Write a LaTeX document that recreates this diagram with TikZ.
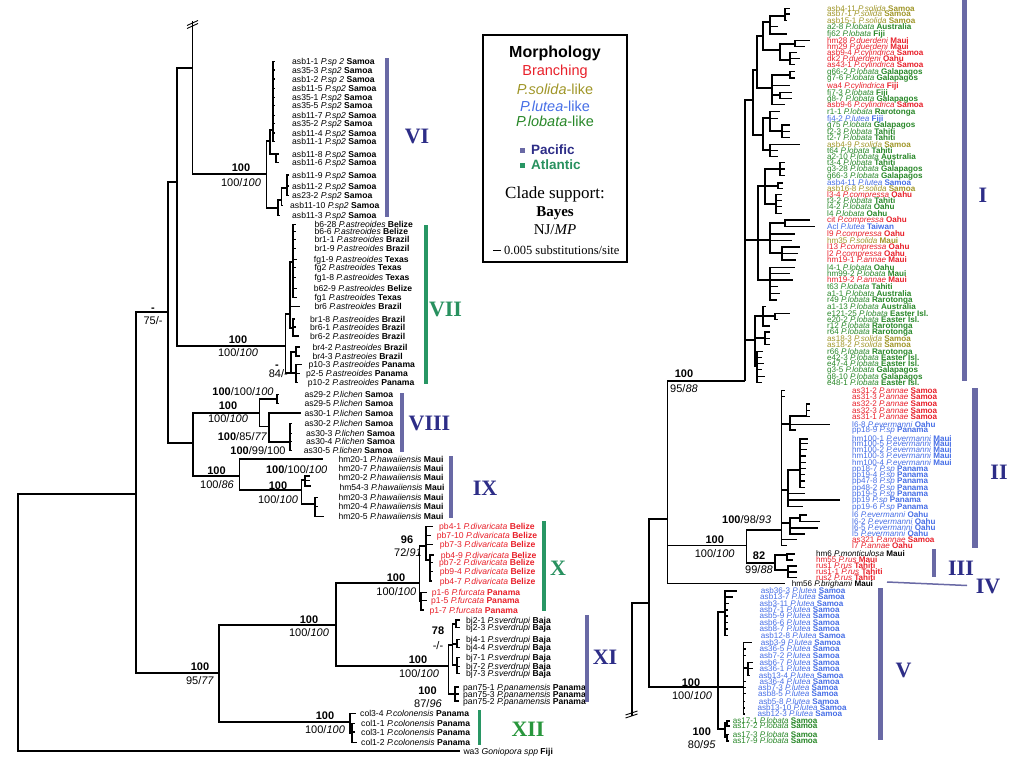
\documentclass[tikz,border=0pt]{standalone}
\usepackage{fontspec}
\setmainfont{Liberation Serif}
\setsansfont{Liberation Sans}
\definecolor{cred}{RGB}{232,32,42}
\definecolor{colv}{RGB}{160,150,40}
\definecolor{cblu}{RGB}{70,110,230}
\definecolor{cgrn}{RGB}{40,135,40}
\definecolor{pacbar}{RGB}{105,105,165}
\definecolor{pactxt}{RGB}{45,45,135}
\definecolor{atl}{RGB}{40,150,100}
\definecolor{atltxt}{RGB}{40,145,95}
\definecolor{xiigrn}{RGB}{40,150,60}
\newcounter{lf}
\newcommand\kid[4]{\coordinate (#2) at (#3,#4);\draw[br] (#1) |- (#2);}
\newcommand\leaf[6]{\stepcounter{lf}\coordinate (tip\thelf) at (#2,#3);\draw[br] (#1) |- (tip\thelf);\node[#5] (lab\thelf) at (#4,#3) {#6};}
\newcommand\leafb[7]{\stepcounter{lf}\coordinate (tip\thelf) at (#2,#3);\draw[br] (#1) |- (tip\thelf);\node[#6] (lab\thelf) at (#4,#5) {#7};}
\newcommand\T[3]{#1 \textit{#2} \textbf{#3}}
\newcommand\lI[7]{\leaf{#1}{#2}{#3}{827}{#4}{\T{#5}{#6}{#7}}}
\newcommand\lII[7]{\leaf{#1}{#2}{#3}{852}{#4}{\T{#5}{#6}{#7}}}
\tikzset{
 br/.style={line width=1.1pt},
 lL/.style={font=\sffamily\fontsize{8.6}{8.6}\selectfont, anchor=west, inner sep=0pt, text height=6.2pt, text depth=0pt},
 lLred/.style={lL, text=cred},
 lR/.style={font=\sffamily\fontsize{8.1}{8.1}\selectfont, anchor=west, inner sep=0pt, text height=5.8pt, text depth=0pt},
 lred/.style={lR, text=cred}, lolv/.style={lR, text=colv}, lblu/.style={lR, text=cblu},
 lgrn/.style={lR, text=cgrn}, lblk/.style={lR},
 sup/.style={font=\sffamily\fontsize{11}{11}\selectfont, inner sep=0pt, text height=7.9pt, text depth=0pt},
 roman/.style={font=\rmfamily\bfseries\fontsize{22}{22}\selectfont, inner sep=0pt, text=pactxt},
 legtxt/.style={font=\sffamily\fontsize{14.5}{14.5}\selectfont, inner sep=0pt}
}
\begin{document}
\begin{tikzpicture}[x=1pt,y=-1pt]
\useasboundingbox (0,0) rectangle (1024,768);
% ================= LEFT TREE =================
\coordinate (r) at (18,622);
\kid{r}{n136}{136}{494}
\leaf{r}{460}{751}{463.3}{lL}{wa3 \textit{Goniopora spp} \textbf{Fiji}}
\kid{n136}{n168}{168}{312}
\kid{n136}{n219}{219}{673}
\kid{n168}{n177}{177}{182}
\kid{n168}{n193}{193}{443}
\kid{n177}{n192}{192.5}{68}
\kid{n177}{n286}{285.7}{346}
\draw[br] (n192) -- ++(0,-47);
\coordinate (brkL) at (192.5,23);
\draw[line width=0.9pt] ([shift={(-5.5,2.5)}]brkL) -- ([shift={(5.5,-2.5)}]brkL);
\draw[line width=0.9pt] ([shift={(-5.5,5.5)}]brkL) -- ([shift={(5.5,0.5)}]brkL);
\kid{n192}{n266}{266.7}{174}
% clade VI
\kid{n266}{u1}{270}{141}
\kid{n266}{w1}{278}{208}
\kid{u1}{u2}{273}{130}
\kid{u1}{u3}{276}{154}
\leaf{u2}{275}{61.7}{292}{lL}{\T{asb1-1}{P.sp 2}{Samoa}}
\leaf{u2}{275}{70}{292}{lL}{\T{as35-3}{P.sp2}{Samoa}}
\leaf{u2}{275}{79}{292}{lL}{\T{asb1-2}{P.sp 2}{Samoa}}
\leaf{u2}{275}{88.7}{292}{lL}{\T{asb11-5}{P.sp2}{Samoa}}
\leaf{u2}{275}{97.3}{292}{lL}{\T{as35-1}{P.sp2}{Samoa}}
\leaf{u2}{275}{105.7}{292}{lL}{\T{as35-5}{P.sp2}{Samoa}}
\leaf{u2}{275}{115.3}{292}{lL}{\T{asb11-7}{P.sp2}{Samoa}}
\leaf{u2}{275}{123.7}{292}{lL}{\T{as35-2}{P.sp2}{Samoa}}
\leaf{u2}{275}{133}{292}{lL}{\T{asb11-4}{P.sp2}{Samoa}}
\leaf{u2}{275}{141.7}{292}{lL}{\T{asb11-1}{P.sp2}{Samoa}}
\leaf{u3}{279}{154}{292}{lL}{\T{asb11-8}{P.sp2}{Samoa}}
\leaf{u3}{279}{162.3}{292}{lL}{\T{asb11-6}{P.sp2}{Samoa}}
\leaf{w1}{280}{215.7}{292}{lL}{\T{asb11-3}{P.sp2}{Samoa}}
\kid{w1}{w2}{281.7}{200}
\leaf{w2}{283}{205.7}{290}{lL}{\T{asb11-10}{P.sp2}{Samoa}}
\kid{w2}{w3}{287}{188}
\leaf{w3}{289}{175}{292}{lL}{\T{asb11-9}{P.sp2}{Samoa}}
\leaf{w3}{289}{186}{292}{lL}{\T{asb11-2}{P.sp2}{Samoa}}
\leaf{w3}{289}{195.7}{292}{lL}{\T{as23-2}{P.sp2}{Samoa}}
% clade VII
\kid{n286}{v1}{290}{314}
\kid{n286}{v2}{291}{373}
\kid{v1}{va}{293}{262}
\kid{v1}{vb}{293}{328}
\leaf{va}{296}{224.7}{314.3}{lL}{\T{b6-28}{P.astreoides}{Belize}}
\leaf{va}{296}{231.7}{314.3}{lL}{\T{b6-6}{P.astreoides}{Belize}}
\leaf{va}{296}{239.7}{314.3}{lL}{\T{br1-1}{P.astreoides}{Brazil}}
\leaf{va}{296}{248.7}{314.3}{lL}{\T{br1-9}{P.astreoides}{Brazil}}
\leaf{va}{297}{259.3}{313.7}{lL}{\T{fg1-9}{P.astreoides}{Texas}}
\leaf{va}{296}{267.7}{314.3}{lL}{\T{fg2}{P.astreoides}{Texas}}
\leaf{va}{296}{277.7}{314.3}{lL}{\T{fg1-8}{P.astreoides}{Texas}}
\leaf{va}{297}{288.7}{313.7}{lL}{\T{b62-9}{P.astreoides}{Belize}}
\leaf{va}{297}{297.7}{314.3}{lL}{\T{fg1}{P.astreoides}{Texas}}
\leaf{v1}{300}{306.7}{314.3}{lL}{\T{br6}{P.astreoides}{Brazil}}
\leaf{vb}{295}{319}{310}{lL}{\T{br1-8}{P.astreoides}{Brazil}}
\leaf{vb}{296}{327}{310}{lL}{\T{br6-1}{P.astreoides}{Brazil}}
\leaf{vb}{299}{336}{310}{lL}{\T{br6-2}{P.astreoides}{Brazil}}
\kid{v2}{vc}{296}{352}
\kid{v2}{vd}{296}{373}
\leaf{vc}{300}{347}{312.3}{lL}{\T{br4-2}{P.astreoides}{Brazil}}
\leaf{vc}{300}{356}{312.3}{lL}{\T{br4-3}{P.astreoies}{Brazil}}
\leaf{vd}{302}{364.7}{308.3}{lL}{\T{p10-3}{P.astreoides}{Panama}}
\leaf{vd}{300}{373.7}{306}{lL}{\T{p2-5}{P.astreoides}{Panama}}
\leaf{vd}{298}{382.7}{307.7}{lL}{\T{p10-2}{P.astreoides}{Panama}}
% clade VIII
\kid{n193}{n259}{259.3}{413}
\kid{n193}{n240}{239.3}{476}
\kid{n259}{v8a}{277}{399}
\kid{n259}{v8b}{269}{426.7}
\leaf{v8a}{279}{394.7}{304.3}{lL}{\T{as29-2}{P.lichen}{Samoa}}
\leaf{v8a}{279}{403.7}{304.3}{lL}{\T{as29-5}{P.lichen}{Samoa}}
\leaf{v8b}{301}{413}{304.3}{lL}{\T{as30-1}{P.lichen}{Samoa}}
\kid{v8b}{v8c}{290}{442}
\leaf{v8c}{292}{423.7}{304.3}{lL}{\T{as30-2}{P.lichen}{Samoa}}
\leaf{v8c}{292}{433.3}{306}{lL}{\T{as30-3}{P.lichen}{Samoa}}
\leaf{v8c}{292}{441.7}{306}{lL}{\T{as30-4}{P.lichen}{Samoa}}
\leaf{v8c}{292}{450.7}{303.7}{lL}{\T{as30-5}{P.lichen}{Samoa}}
% clade IX
\leaf{n240}{323}{459}{338.3}{lL}{\T{hm20-1}{P.hawaiiensis}{Maui}}
\kid{n240}{n302}{301.7}{490}
\kid{n302}{i9a}{305}{480}
\kid{n302}{i9b}{315}{504}
\leafb{i9a}{310}{476}{338.3}{468.3}{lL}{\T{hm20-7}{P.hawaiiensis}{Maui}}
\leafb{i9a}{310}{480.5}{338.3}{477.3}{lL}{\T{hm20-2}{P.hawaiiensis}{Maui}}
\leafb{i9a}{311}{486}{339.3}{487.7}{lL}{\T{hm54-3}{P.hawaiiensis}{Maui}}
\leaf{i9b}{318}{497.3}{338.3}{lL}{\T{hm20-3}{P.hawaiiensis}{Maui}}
\leaf{i9b}{318}{506.7}{338.3}{lL}{\T{hm20-4}{P.hawaiiensis}{Maui}}
\leaf{i9b}{324}{516.3}{338.3}{lL}{\T{hm20-5}{P.hawaiiensis}{Maui}}
% clades X-XII
\kid{n219}{n336}{336}{625}
\kid{n219}{n350}{350}{722}
\kid{n336}{n419}{419.3}{583}
\kid{n336}{n448}{448.3}{666}
\kid{n419}{xa}{426}{546}
\kid{n419}{xb}{421}{601}
\leaf{xa}{433}{526.7}{439}{lLred}{\T{pb4-1}{P.divaricata}{Belize}}
\leaf{xa}{431}{535.7}{436.7}{lLred}{\T{pb7-10}{P.divaricata}{Belize}}
\leaf{xa}{433}{544.3}{439.7}{lLred}{\T{pb7-3}{P.divaricata}{Belize}}
\kid{xa}{xa1}{430}{560}
\leaf{xa1}{434}{555}{440.7}{lLred}{\T{pb4-9}{P.divaricata}{Belize}}
\leaf{xa1}{433}{562.3}{439}{lLred}{\T{pb7-2}{P.divaricata}{Belize}}
\leaf{xa1}{433}{571.7}{439.7}{lLred}{\T{pb9-4}{P.divaricata}{Belize}}
\leaf{xa1}{432}{581}{439.7}{lLred}{\T{pb4-7}{P.divaricata}{Belize}}
\leaf{xb}{427}{592.7}{431.7}{lLred}{\T{p1-6}{P.furcata}{Panama}}
\leaf{xb}{427}{600.7}{431}{lLred}{\T{p1-5}{P.furcata}{Panama}}
\leaf{xb}{424}{610}{429.3}{lLred}{\T{p1-7}{P.furcata}{Panama}}
\kid{n448}{xi1}{452.7}{645}
\kid{n448}{xi2}{455}{694}
\kid{xi1}{xi1a}{456}{624}
\kid{xi1}{xi1b}{457}{644}
\kid{xi1}{xi1c}{457}{665}
\leaf{xi1a}{460}{620}{466}{lL}{\T{bj2-1}{P.sverdrupi}{Baja}}
\leaf{xi1a}{460}{627.3}{466}{lL}{\T{bj2-3}{P.sverdrupi}{Baja}}
\leaf{xi1b}{460}{639.7}{466}{lL}{\T{bj4-1}{P.sverdrupi}{Baja}}
\leaf{xi1b}{460}{647.7}{466}{lL}{\T{bj4-4}{P.sverdrupi}{Baja}}
\leaf{xi1c}{460}{657.7}{466}{lL}{\T{bj7-1}{P.sverdrupi}{Baja}}
\leaf{xi1c}{460}{666.3}{466}{lL}{\T{bj7-2}{P.sverdrupi}{Baja}}
\leaf{xi1c}{460}{673.7}{466}{lL}{\T{bj7-3}{P.sverdrupi}{Baja}}
\leaf{xi2}{459}{687}{463}{lL}{\T{pan75-1}{P.panamensis}{Panama}}
\leaf{xi2}{459}{694}{463}{lL}{\T{pan75-3}{P.panamensis}{Panama}}
\leaf{xi2}{459}{701}{463}{lL}{\T{pan75-2}{P.panamensis}{Panama}}
\leaf{n350}{356}{713.3}{360}{lL}{\T{col3-4}{P.colonensis}{Panama}}
\kid{n350}{x12a}{352}{733}
\leaf{x12a}{355}{723.7}{361}{lL}{\T{col1-1}{P.colonensis}{Panama}}
\leaf{x12a}{355}{732}{361}{lL}{\T{col3-1}{P.colonensis}{Panama}}
\leaf{x12a}{357}{742.3}{361}{lL}{\T{col1-2}{P.colonensis}{Panama}}
% support values, left
\node[sup] (s1) at (241,168) {\textbf{100}};
\node[sup] (s2) at (241,182.7) {100/\textit{100}};
\node[sup] (s3) at (153,308) {\textbf{-}};
\node[sup] (s4) at (153,321) {75/-};
\node[sup] (s5) at (238,339.3) {\textbf{100}};
\node[sup] (s6) at (238,352.7) {100/\textit{100}};
\node[sup] (s7) at (277,364.3) {\textbf{-}};
\node[sup] (s8) at (278.3,373.3) {84/-};
\node[sup] (s9) at (243,391.5) {\textbf{100}/100/\textit{100}};
\node[sup] (s10) at (228,405.7) {\textbf{100}};
\node[sup] (s11) at (228,419) {100/\textit{100}};
\node[sup] (s12) at (242.5,436.7) {\textbf{100}/85/\textit{77}};
\node[sup] (s13) at (258,451) {\textbf{100}/99/100};
\node[sup] (s14) at (216.5,470.7) {\textbf{100}};
\node[sup] (s15) at (217,484.3) {100/\textit{86}};
\node[sup] (s16) at (296.7,470) {\textbf{100}/100/\textit{100}};
\node[sup] (s17) at (278,486) {\textbf{100}};
\node[sup] (s18) at (278,499.3) {100/\textit{100}};
\node[sup] (s19) at (407,539.3) {\textbf{96}};
\node[sup] (s20) at (408,552.7) {72/\textit{91}};
\node[sup] (s21) at (396,577.3) {\textbf{100}};
\node[sup] (s22) at (396.3,591.7) {100/\textit{100}};
\node[sup] (s23) at (309,619.3) {\textbf{100}};
\node[sup] (s24) at (309,632.7) {100/\textit{100}};
\node[sup] (s25) at (438,630.7) {\textbf{78}};
\node[sup] (s26) at (438,646) {-/-};
\node[sup] (s27) at (418,659.3) {\textbf{100}};
\node[sup] (s28) at (419,673.3) {100/\textit{100}};
\node[sup] (s29) at (427.5,690.7) {\textbf{100}};
\node[sup] (s30) at (428,704) {87/\textit{96}};
\node[sup] (s31) at (325,716) {\textbf{100}};
\node[sup] (s32) at (325,730) {100/\textit{100}};
\node[sup] (s33) at (200,666.7) {\textbf{100}};
\node[sup] (s34) at (200,680.7) {95/\textit{77}};
% ================= RIGHT TREE =================
\coordinate (R) at (632,716);
\kid{R}{Rn}{649}{603}
\coordinate (brkR) at (631.5,713);
\draw[line width=0.9pt] ([shift={(-6,2)}]brkR) -- ([shift={(6,-2)}]brkR);
\draw[line width=0.9pt] ([shift={(-6,5)}]brkR) -- ([shift={(6,1)}]brkR);
\kid{Rn}{A}{667.7}{519}
\kid{Rn}{V0}{718}{687}
\kid{A}{I0}{745}{381}
\kid{A}{n746}{746.7}{545.7}
\leaf{A}{785}{583.3}{791.7}{lblk}{\T{hm56}{P.brighami}{Maui}}
\kid{n746}{II0}{781.7}{530}
\kid{n746}{III0}{775}{563}
% clade I
\kid{I0}{g14}{753}{100}
\kid{I0}{g57}{758}{240}
\kid{I0}{g8n}{755}{340}
\kid{g14}{g123}{757}{70}
\kid{g14}{g4n}{763}{135}
\kid{g123}{g12}{763}{36}
\kid{g123}{g3n}{772}{88}
\kid{g12}{g1n}{770}{22}
\kid{g12}{g2n}{780}{50}
\kid{g1n}{g1a}{785}{16}
\lI{g1a}{790}{8.3}{lolv}{asb4-11}{P.solida}{Samoa}
\lI{g1a}{790}{14}{lolv}{asb7-1}{P.solida}{Samoa}
\lI{g1a}{787}{20.7}{lolv}{asb15-1}{P.solida}{Samoa}
\lI{g1n}{778}{26.7}{lgrn}{a2-8}{P.lobata}{Australia}
\lI{g1n}{786.7}{34}{lgrn}{fj62}{P.lobata}{Fiji}
\kid{g2n}{g2a}{795}{44}
\kid{g2n}{g2b}{790}{60}
\lI{g2a}{810}{40.7}{lred}{hm28}{P.duerdeni}{Maui}
\lI{g2a}{805}{46.7}{lred}{hm29}{P.duerdeni}{Maui}
\lI{g2b}{797}{52.7}{lred}{asb9-4}{P.cylindrica}{Samoa}
\lI{g2b}{800}{58.3}{lred}{dk2}{P.duerdeni}{Oahu}
\lI{g2b}{795}{64.3}{lred}{as43-1}{P.cylindrica}{Samoa}
\kid{g3n}{g3a}{790}{75}
\lI{g3a}{795}{71.7}{lgrn}{g66-2}{P.lobata}{Galapagos}
\lI{g3a}{795}{78}{lgrn}{g7-6}{P.lobata}{Galapagos}
\lI{g3n}{790}{85.3}{lred}{wa4}{P.cylindrica}{Fiji}
\kid{g3n}{g3b}{780}{95}
\lI{g3b}{792}{92.3}{lgrn}{fj7-3}{P.lobata}{Fiji}
\lI{g3b}{792}{98.3}{lgrn}{g8-7}{P.lobata}{Galapagos}
\lI{g3n}{785}{104.3}{lred}{asb9-6}{P.cylindrica}{Samoa}
\kid{g4n}{g4b}{770}{118}
\kid{g4n}{g4c}{770}{150}
\lI{g4b}{780}{111.7}{lgrn}{r1-1}{P.lobata}{Rarotonga}
\lI{g4b}{778}{118.3}{lblu}{fj4-2}{P.lutea}{Fiji}
\kid{g4b}{g4a}{782}{131}
\lI{g4a}{790}{125}{lgrn}{g75}{P.lobata}{Galapagos}
\lI{g4a}{790}{131.7}{lgrn}{t2-3}{P.lobata}{Tahiti}
\lI{g4a}{790}{137.3}{lgrn}{t2-7}{P.lobata}{Tahiti}
\lI{g4c}{800}{144.3}{lolv}{asb4-9}{P.solida}{Samoa}
\lI{g4c}{778}{150.7}{lgrn}{t64}{P.lobata}{Tahiti}
\lI{g4c}{778}{156.7}{lgrn}{a2-10}{P.lobata}{Australia}
\kid{g57}{g5n}{765}{186}
\kid{g57}{g6n}{770}{240}
\kid{g57}{g7n}{770}{280}
\kid{g5n}{g5a}{780}{169}
\kid{g5n}{g5b}{778}{186}
\kid{g5n}{g5c}{776}{204}
\lI{g5a}{785}{162.7}{lgrn}{t3-4}{P.lobata}{Tahiti}
\lI{g5a}{785}{169}{lgrn}{g3-28}{P.lobata}{Galapagos}
\lI{g5a}{785}{175.7}{lgrn}{g66-3}{P.lobata}{Galapagos}
\lI{g5b}{783}{183}{lblu}{asb4-11}{P.lutea}{Samoa}
\lI{g5b}{783}{188.3}{lolv}{asb16-8}{P.solida}{Samoa}
\lI{g5c}{782}{194.3}{lred}{l3-4}{P.compressa}{Oahu}
\lI{g5c}{782}{200.7}{lgrn}{t3-2}{P.lobata}{Tahiti}
\lI{g5c}{782}{206.7}{lgrn}{l4-2}{P.lobata}{Oahu}
\lI{g5c}{782}{213.3}{lgrn}{l4}{P.lobata}{Oahu}
\kid{g6n}{g6a}{785}{223}
\lI{g6a}{810}{220}{lred}{cit}{P.compressa}{Oahu}
\lI{g6a}{815}{226.7}{lblu}{Acl}{P.lutea}{Taiwan}
\lI{g6n}{795}{234}{lred}{l9}{P.compressa}{Oahu}
\lI{g6n}{792}{240.3}{lolv}{hm35}{P.solida}{Maui}
\kid{g6n}{g6c}{782}{253}
\lI{g6c}{800}{247}{lred}{l13}{P.compressa}{Oahu}
\lI{g6c}{798}{253.7}{lred}{l2}{P.compressa}{Oahu}
\lI{g6c}{796}{260}{lred}{hm19-1}{P.annae}{Maui}
\lI{g7n}{795}{267.3}{lgrn}{l4-1}{P.lobata}{Oahu}
\lI{g7n}{790}{273.3}{lgrn}{hm99-2}{P.lobata}{Maui}
\lI{g7n}{793}{280}{lred}{hm19-2}{P.annae}{Maui}
\lI{g7n}{778}{286.7}{lgrn}{t63}{P.lobata}{Tahiti}
\lI{g7n}{780}{293.3}{lgrn}{a1-1}{P.lobata}{Australia}
\lI{g7n}{777}{300}{lgrn}{r49}{P.lobata}{Rarotonga}
\kid{g8n}{g8a}{763}{316}
\kid{g8n}{g8b}{765}{338}
\kid{g8n}{g8c}{757}{366}
\lI{g8a}{766}{306.7}{lgrn}{a1-13}{P.lobata}{Australia}
\kid{g8a}{g8a1}{775}{316}
\lI{g8a1}{790}{313.3}{lgrn}{e121-25}{P.lobata}{Easter Isl.}
\lI{g8a1}{778}{319.3}{lgrn}{e20-2}{P.lobata}{Easter Isl.}
\lI{g8a}{770}{326}{lgrn}{r12}{P.lobata}{Rarotonga}
\lI{g8b}{770}{332}{lgrn}{r64}{P.lobata}{Rarotonga}
\lI{g8b}{770}{338.3}{lolv}{as18-3}{P.solida}{Samoa}
\lI{g8b}{770}{344.3}{lolv}{as18-2}{P.solida}{Samoa}
\lI{g8c}{763}{351.7}{lgrn}{r66}{P.lobata}{Rarotonga}
\lI{g8c}{762}{357.7}{lgrn}{e42-3}{P.lobata}{Easter Isl.}
\lI{g8c}{764}{363.3}{lgrn}{e47-4}{P.lobata}{Easter Isl.}
\lI{g8c}{762}{369.3}{lgrn}{g3-5}{P.lobata}{Galapagos}
\lI{g8c}{765}{376.7}{lgrn}{g8-10}{P.lobata}{Galapagos}
\lI{g8c}{762}{382.7}{lgrn}{e48-1}{P.lobata}{Easter Isl.}
% clade II
\lII{II0}{785}{390.7}{lred}{as31-2}{P.annae}{Samoa}
\lII{II0}{785}{396.7}{lred}{as31-3}{P.annae}{Samoa}
\kid{II0}{IIa}{790}{424}
\kid{IIa}{IIa1}{806.7}{416}
\lII{IIa1}{810}{404}{lred}{as32-2}{P.annae}{Samoa}
\lII{IIa1}{810}{410.3}{lred}{as32-3}{P.annae}{Samoa}
\lII{IIa1}{810}{416.7}{lred}{as31-1}{P.annae}{Samoa}
\lII{IIa}{830}{424.7}{lblu}{l6-8}{P.evermanni}{Oahu}
\lII{IIa}{796}{430}{lblu}{pp18-9}{P.sp}{Panama}
\kid{II0}{IIb}{788}{490}
\kid{IIb}{IIb1}{800}{470}
\lII{IIb1}{808}{439}{lblu}{hm100-1}{P.evermanni}{Maui}
\lII{IIb1}{808}{443.7}{lblu}{hm100-5}{P.evermanni}{Maui}
\lII{IIb1}{807}{449.3}{lblu}{hm100-2}{P.evermanni}{Maui}
\lII{IIb1}{806}{456}{lblu}{hm100-3}{P.evermanni}{Maui}
\lII{IIb1}{806}{462.7}{lblu}{hm100-4}{P.evermanni}{Maui}
\lII{IIb1}{806}{468.3}{lblu}{pp18-7}{P.sp}{Panama}
\lII{IIb1}{805}{474.7}{lblu}{pp19-4}{P.sp}{Panama}
\lII{IIb1}{805}{481}{lblu}{pp47-8}{P.sp}{Panama}
\lII{IIb1}{805}{487.3}{lblu}{pp48-2}{P.sp}{Panama}
\lII{IIb}{805}{493.7}{lblu}{pp19-5}{P.sp}{Panama}
\lII{IIb}{840}{500}{lblu}{pp19}{P.sp}{Panama}
\lII{IIb}{803}{506.7}{lblu}{pp19-6}{P.sp}{Panama}
\kid{II0}{IIc}{790}{523}
\kid{IIc}{IIc1}{800}{518}
\lII{IIc1}{807}{515}{lblu}{l6}{P.evermanni}{Oahu}
\lII{IIc1}{820}{521.7}{lblu}{l6-2}{P.evermanni}{Oahu}
\lII{IIc}{818}{528}{lblu}{l6-5}{P.evermanni}{Oahu}
\lII{IIc}{805}{534}{lblu}{l5}{P.evermanni}{Oahu}
\lII{II0}{797}{539.7}{lred}{as321}{P.annae}{Samoa}
\lII{II0}{787}{545.7}{lred}{l7}{P.annae}{Oahu}
% clade III
\kid{III0}{IIIa}{787}{555}
\kid{III0}{IIIb}{788}{570}
\leaf{IIIa}{795}{554}{816}{lblk}{\T{hm6}{P.monticulosa}{Maui}}
\leaf{IIIa}{793}{560}{816}{lred}{\T{hm55}{P.rus}{Maui}}
\leaf{IIIb}{797}{566}{816}{lred}{\T{rus1}{P.rus}{Tahiti}}
\leaf{IIIb}{797}{572}{816}{lred}{\T{rus1-1}{P.rus}{Tahiti}}
\leaf{IIIb}{797}{577.3}{816}{lred}{\T{rus2}{P.rus}{Tahiti}}
% clade V
\kid{V0}{Vup}{725}{612}
\kid{V0}{Vb}{743.3}{687}
\kid{V0}{Vc}{725}{729}
\leaf{Vup}{737}{591}{760.7}{lblu}{\T{asb36-3}{P.lutea}{Samoa}}
\leaf{Vup}{733}{597}{760}{lblu}{\T{asb13-7}{P.lutea}{Samoa}}
\leaf{Vup}{729}{603.3}{759.3}{lblu}{\T{asb3-11}{P.lutea}{Samoa}}
\leaf{Vup}{728}{610}{759.3}{lblu}{\T{asb7-1}{P.lutea}{Samoa}}
\leaf{Vup}{728}{616}{759.3}{lblu}{\T{asb5-9}{P.lutea}{Samoa}}
\leaf{Vup}{728}{622.3}{759.3}{lblu}{\T{asb6-6}{P.lutea}{Samoa}}
\leaf{Vup}{728}{629}{759.3}{lblu}{\T{asb8-7}{P.lutea}{Samoa}}
\leaf{Vup}{728}{635.3}{760.7}{lblu}{\T{asb12-8}{P.lutea}{Samoa}}
\leaf{Vb}{752}{642.3}{760.7}{lblu}{\T{asb3-9}{P.lutea}{Samoa}}
\leaf{Vb}{746}{649}{759.3}{lblu}{\T{as36-5}{P.lutea}{Samoa}}
\leaf{Vb}{746}{655.7}{759.3}{lblu}{\T{asb7-2}{P.lutea}{Samoa}}
\kid{Vb}{Vb1}{748}{668}
\leaf{Vb1}{753}{662.3}{759.3}{lblu}{\T{asb6-7}{P.lutea}{Samoa}}
\leaf{Vb1}{753}{668.3}{759.3}{lblu}{\T{as36-1}{P.lutea}{Samoa}}
\leaf{Vb1}{750}{675.7}{758.7}{lblu}{\T{asb13-4}{P.lutea}{Samoa}}
\leaf{Vb}{746}{681.7}{759.3}{lblu}{\T{as36-4}{P.lutea}{Samoa}}
\leaf{Vb}{746}{687.3}{758}{lblu}{\T{asb7-3}{P.lutea}{Samoa}}
\leaf{Vb}{746}{693.7}{758}{lblu}{\T{asb8-5}{P.lutea}{Samoa}}
\leaf{Vb}{745}{701.7}{758.7}{lblu}{\T{asb5-8}{P.lutea}{Samoa}}
\leaf{Vb}{745}{708}{757.3}{lblu}{\T{asb13-10}{P.lutea}{Samoa}}
\leaf{Vb}{745}{714}{757.3}{lblu}{\T{asb12-3}{P.lutea}{Samoa}}
\kid{Vc}{Vc1}{727}{723}
\kid{Vc}{Vc2}{727}{737}
\leaf{Vc1}{730}{721}{732.7}{lgrn}{\T{as17-1}{P.lobata}{Samoa}}
\leaf{Vc1}{730}{726}{732.7}{lgrn}{\T{as17-2}{P.lobata}{Samoa}}
\leaf{Vc2}{729}{734.7}{732.7}{lgrn}{\T{as17-3}{P.lobata}{Samoa}}
\leaf{Vc2}{729}{741}{732.7}{lgrn}{\T{as17-9}{P.lobata}{Samoa}}
% support values, right
\node[sup] (s35) at (684,374) {\textbf{100}};
\node[sup] (s36) at (684,389) {95/\textit{88}};
\node[sup] (s37) at (714.7,540) {\textbf{100}};
\node[sup] (s38) at (714.7,554) {100/\textit{100}};
\node[sup] (s39) at (746.7,519.3) {\textbf{100}/98/\textit{93}};
\node[sup] (s40) at (759,556) {\textbf{82}};
\node[sup] (s41) at (759,569.3) {99/\textit{88}};
\node[sup] (s42) at (691,682.3) {\textbf{100}};
\node[sup] (s43) at (692,695.7) {100/\textit{100}};
\node[sup] (s44) at (701.7,731.7) {\textbf{100}};
\node[sup] (s45) at (701.7,744.3) {80/\textit{95}};
% ================= CLADE BARS =================
\fill[pacbar] (385,58) rectangle (389,217);
\fill[atl] (424,225) rectangle (428,384);
\fill[pacbar] (400,393) rectangle (403.5,452);
\fill[pacbar] (448.5,456) rectangle (453,518);
\fill[atl] (542,521) rectangle (546,611);
\fill[pacbar] (585,615) rectangle (589,702);
\fill[atl] (477.5,710) rectangle (481,745);
\fill[pacbar] (962,0) rectangle (967,381);
\fill[pacbar] (972,388) rectangle (978,548);
\fill[pacbar] (932,549) rectangle (936,577);
\fill[pacbar] (878,588) rectangle (883,740);
\coordinate (ivA) at (887,582);
\coordinate (ivB) at (967,585.5);
\draw[pacbar, line width=1.5pt] (ivA) -- (ivB);
\node[roman] (cVI) at (417,136) {VI};
\node[roman, text=atltxt] (cVII) at (445.5,309) {VII};
\node[roman] (cVIII) at (429.5,423) {VIII};
\node[roman] (cIX) at (485,488) {IX};
\node[roman, text=atltxt] (cX) at (558,568) {X};
\node[roman] (cXI) at (605,657) {XI};
\node[roman, text=xiigrn] (cXII) at (528,729) {XII};
\node[roman] (cI) at (983,195) {I};
\node[roman] (cII) at (999,472) {II};
\node[roman] (cIII) at (961,568) {III};
\node[roman] (cIV) at (988,586) {IV};
\node[roman] (cV) at (903.5,670) {V};
% ================= LEGEND =================
\node[draw, line width=1.1pt, minimum width=144pt, minimum height=227pt, inner sep=0pt] (legbox) at (555,148.5) {};
\node[font=\sffamily\bfseries\fontsize{16}{16}\selectfont, inner sep=0pt] (mo) at (555,53) {Morphology};
\node[legtxt, text=cred] (m1) at (555,72) {Branching};
\node[legtxt, text=colv] (m2) at (555,89) {\textit{P.solida}-like};
\node[legtxt, text=cblu] (m3) at (555,106) {\textit{P.lutea}-like};
\node[legtxt, text=cgrn] (m4) at (555,121) {\textit{P.lobata}-like};
\fill[pacbar] (519.5,147.5) rectangle (524.5,152.5);
\node[font=\sffamily\bfseries\fontsize{13.5}{13.5}\selectfont, text=pactxt, anchor=west, inner sep=0pt] (pac) at (531,150) {Pacific};
\fill[atl] (519.5,162.5) rectangle (524.5,167.5);
\node[font=\sffamily\bfseries\fontsize{13.5}{13.5}\selectfont, text=atltxt, anchor=west, inner sep=0pt] (atlt) at (531,165) {Atlantic};
\node[font=\rmfamily\fontsize{17}{17}\selectfont, inner sep=0pt] (cs) at (555,194) {Clade support:};
\node[font=\rmfamily\bfseries\fontsize{15}{15}\selectfont, inner sep=0pt] (by) at (555,213) {Bayes};
\node[font=\rmfamily\fontsize{15}{15}\selectfont, inner sep=0pt] (nj) at (555,230) {NJ/\textit{MP}};
\coordinate (scA) at (493,250);
\coordinate (scB) at (501,250);
\draw[line width=1pt] (scA) -- (scB);
\node[font=\rmfamily\fontsize{12.5}{12.5}\selectfont, anchor=west, inner sep=0pt] (sct) at (504,250) {0.005 substitutions/site};
\end{tikzpicture}
\end{document}
